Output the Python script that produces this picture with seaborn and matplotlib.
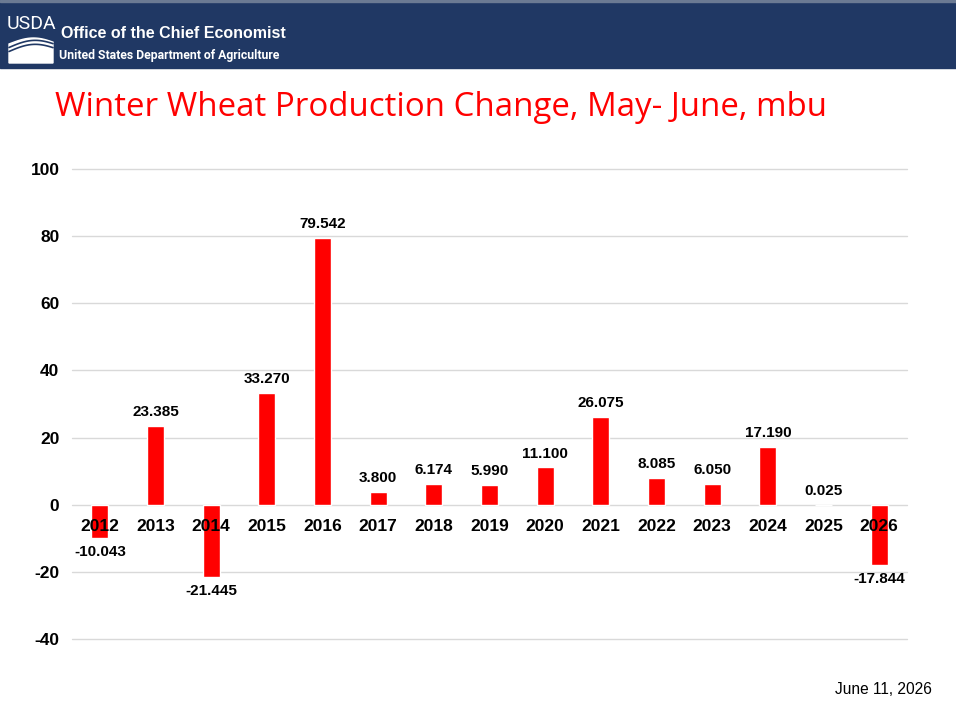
import matplotlib
matplotlib.use("Agg")
import matplotlib.pyplot as plt
import seaborn as sns
import pandas as pd
import numpy as np
from matplotlib.patches import Rectangle, Polygon

# Data
years = ["2012", "2013", "2014", "2015", "2016", "2017", "2018", "2019",
         "2020", "2021", "2022", "2023", "2024", "2025", "2026"]
change_mbu = [-10.043, 23.385, -21.445, 33.270, 79.542, 3.800, 6.174, 5.990,
              11.100, 26.075, 8.085, 6.050, 17.190, 0.025, -17.844]
y_ticks = [-40, -20, 0, 20, 40, 60, 80, 100]

df = pd.DataFrame({"year": years, "change": change_mbu})

sns.set_theme(style="white")
plt.rcParams["font.family"] = ["Liberation Sans", "DejaVu Sans"]
plt.rcParams["axes.unicode_minus"] = False

fig = plt.figure(figsize=(9.56, 7.05), dpi=100)
W, H = 956, 705
NAVY = "#203864"

# header band
hdr = fig.add_axes([0, 1 - 70 / H, 1, 70 / H])
hdr.set_xlim(0, W)
hdr.set_ylim(70, 0)
hdr.axis("off")
hdr.add_patch(Rectangle((0, 0), W, 68, color=NAVY))
hdr.add_patch(Rectangle((0, 0), W, 2, color="#6b7a93"))
hdr.plot([10, 350], [69.5, 69.5], color="#d0d0d0", lw=1)
hdr.text(31, 24, "USDA", color="white", fontsize=14, va="center", ha="center",
         family="Roboto")
# logo swoosh
xs = np.linspace(9, 53, 30)
top = 44 - 6 * np.sin((xs - 9) / 44 * np.pi * 0.9)
hdr.add_patch(Polygon(np.column_stack([np.r_[xs, 53, 9], np.r_[top, 63, 63]]), color="white"))
for off in (3.5, 7.5):
    hdr.plot(xs, top + off - 2 * (xs - 9) / 44, color=NAVY, lw=1.2)
hdr.text(61, 33, "Office of the Chief Economist", color="white", fontsize=11.5,
         fontweight="bold", va="center", ha="left")
hdr.text(59, 56, "United States Department of Agriculture", color="white", fontsize=8.8,
         fontweight="bold", va="center", ha="left", family="Roboto")

fig.text(55 / W, 1 - 108 / H, "Winter Wheat Production Change, May- June, mbu",
         color="#ff0000", fontsize=23.8, va="center", ha="left", family="Open Sans")

ax = fig.add_axes([72 / W, 1 - 639 / H, (907 - 72) / W, (639 - 169) / H])
sns.barplot(data=df, x="year", y="change", color="#ff0000", saturation=1,
            width=0.31, ax=ax, zorder=2)
ax.set_ylim(-40, 100)
ax.set_yticks(y_ticks)
ax.set_xlim(-0.5, len(years) - 0.5)
ax.grid(axis="y", color="#d9d9d9", linewidth=1, zorder=0)
for gl in ax.get_ygridlines():
    gl.set_clip_on(False)
ax.set_axisbelow(True)
for s in ["top", "right", "left"]:
    ax.spines[s].set_visible(False)
ax.spines["bottom"].set_position(("data", 0))
ax.spines["bottom"].set_visible(False)
ax.tick_params(axis="x", length=0, pad=10, labelsize=12.5, labelcolor="black")
ax.tick_params(axis="y", length=0, pad=9, labelsize=12.5, labelcolor="black")
for lab in ax.get_xticklabels() + ax.get_yticklabels():
    lab.set_fontweight("bold")
ax.xaxis.set_zorder(5)
ax.set_xlabel("")
ax.set_ylabel("")

labels = [f"{v:.3f}" for v in change_mbu]
ax.bar_label(ax.containers[0], labels=labels, padding=5, fontsize=11,
             fontweight="bold", color="black")

fig.text(932 / W, 1 - 690 / H, "June 11, 2026", fontsize=11.2, ha="right", va="center",
         color="black")

fig.savefig("out.png", dpi=100)
